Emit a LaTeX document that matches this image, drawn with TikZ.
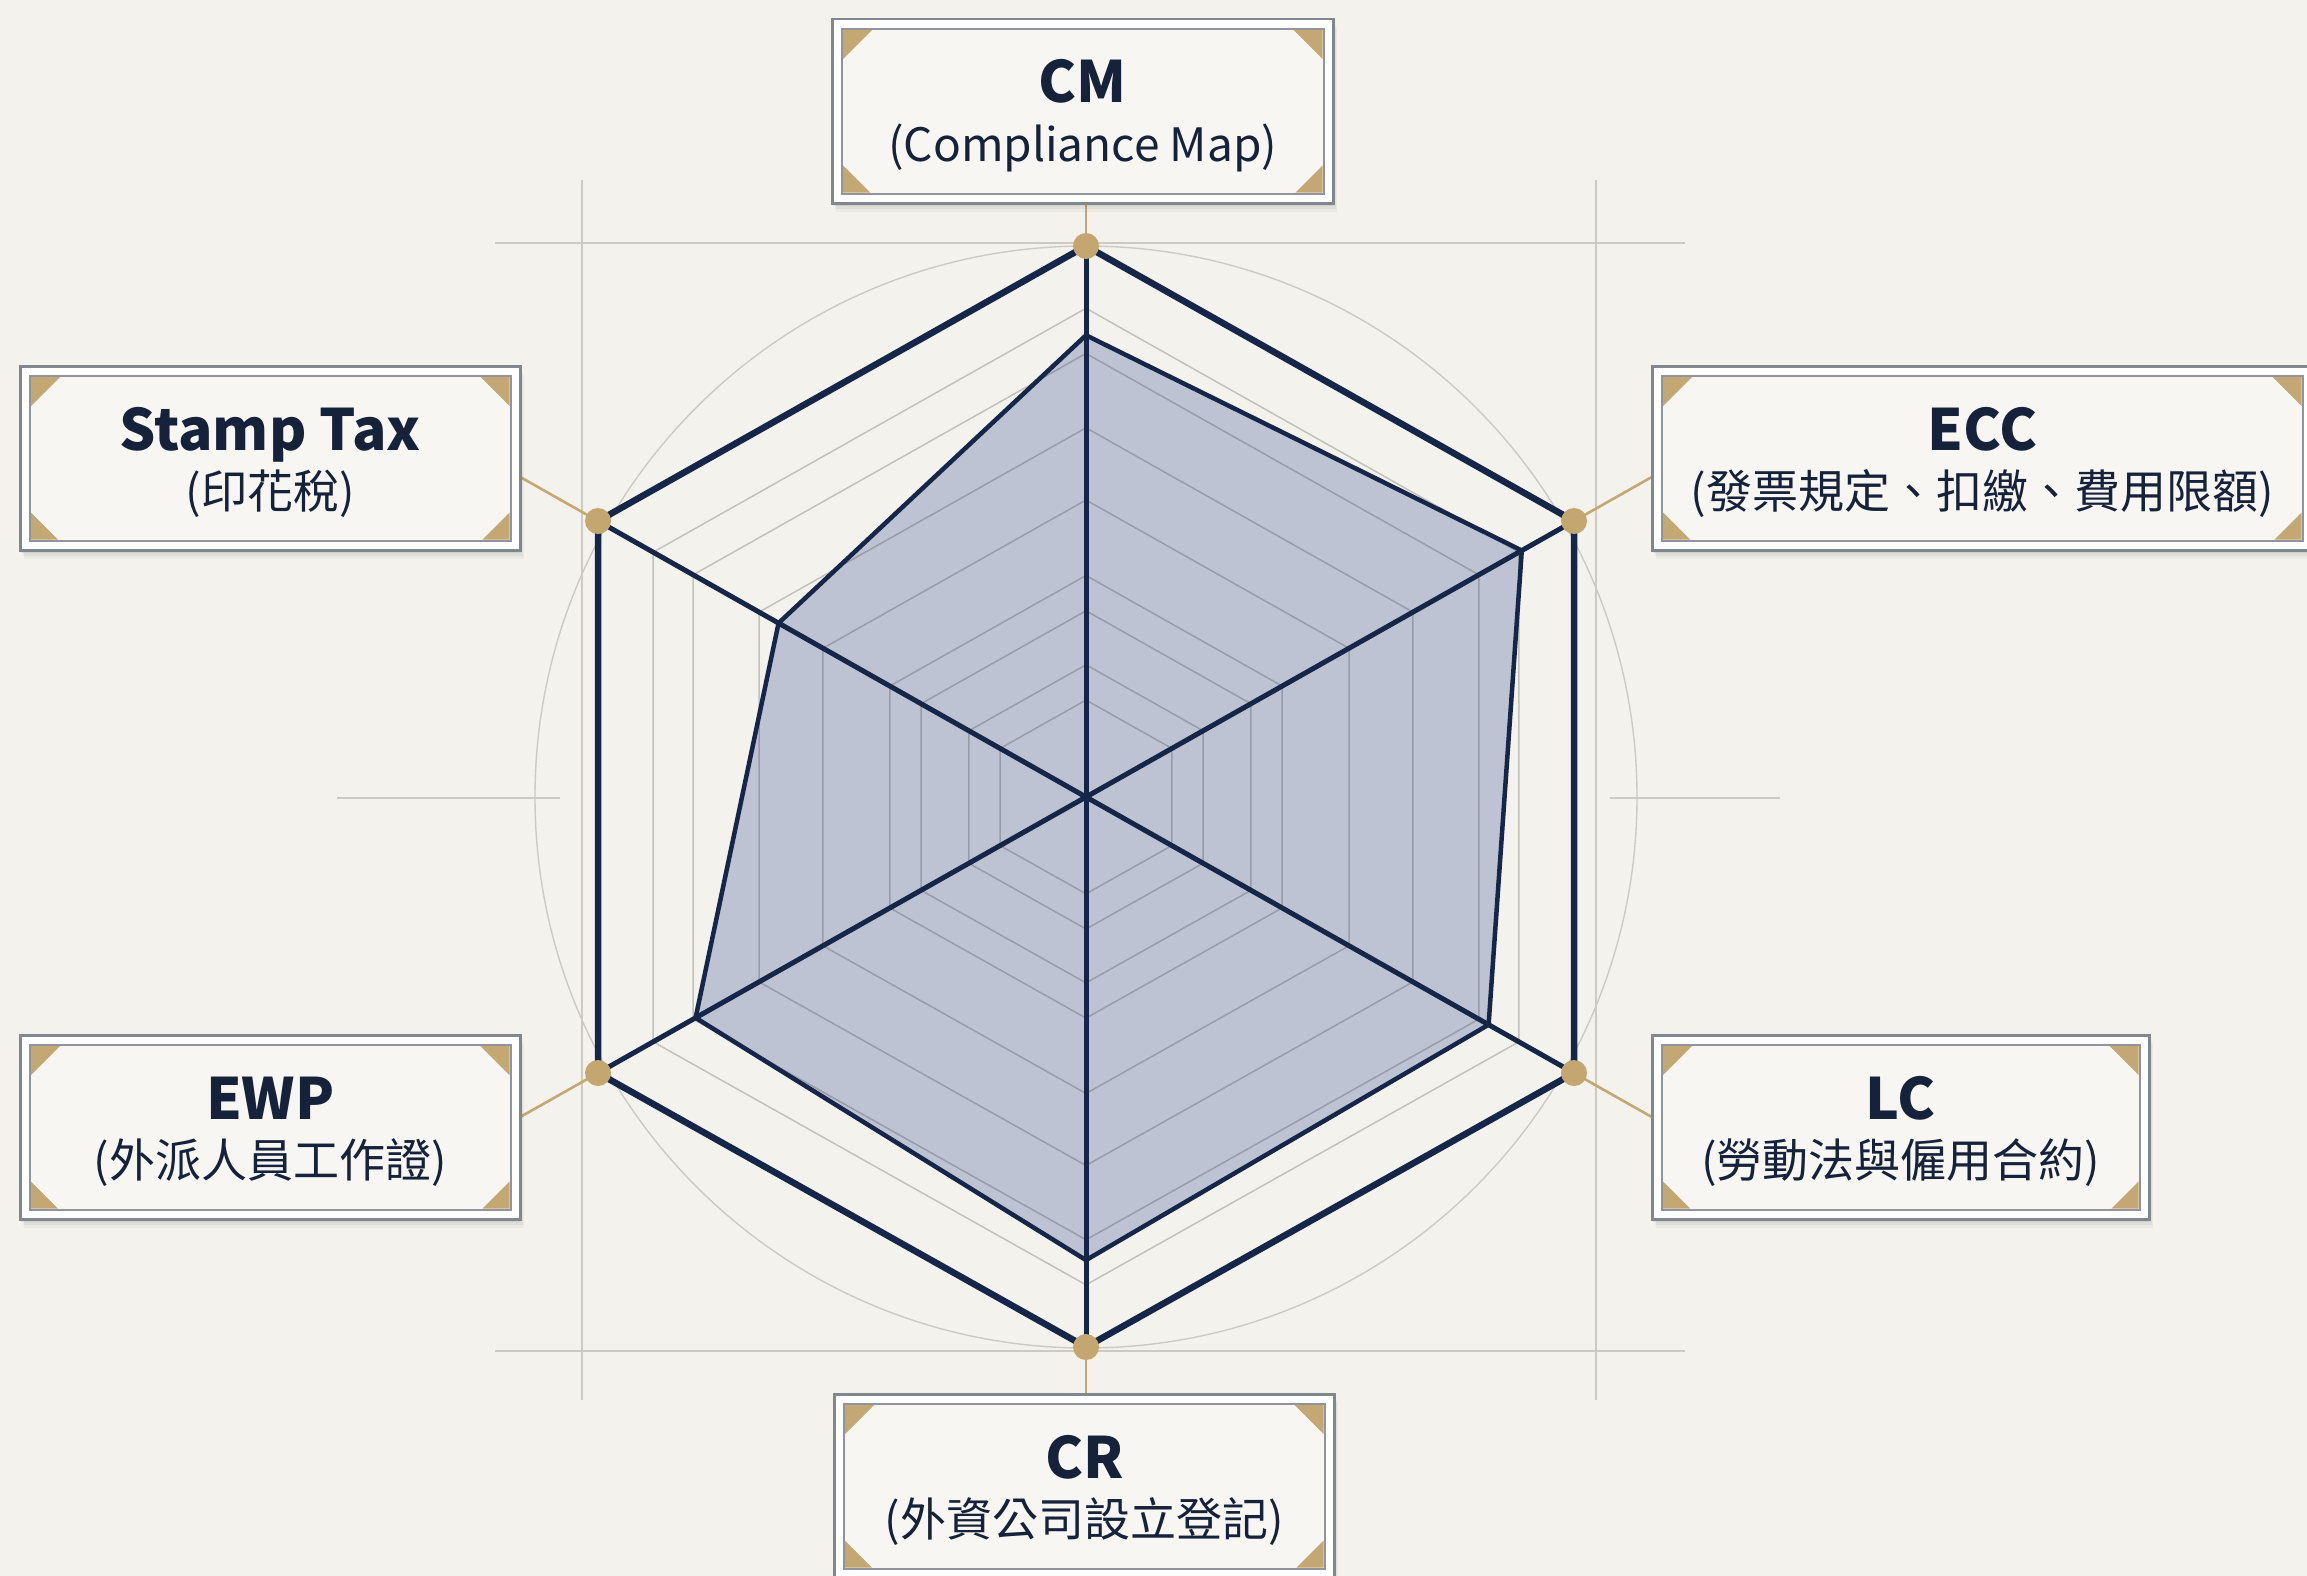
\documentclass[tikz,border=0pt]{standalone}
\usepackage{fontspec}
\setmainfont{Noto Sans CJK TC}
\usetikzlibrary{calc}
\definecolor{bgc}{RGB}{243,242,236}
\definecolor{navy}{RGB}{21,38,72}
\definecolor{textc}{RGB}{22,34,58}
\definecolor{goldc}{RGB}{196,168,116}
\definecolor{dotc}{RGB}{196,166,112}
\definecolor{framec}{RGB}{204,202,195}
\definecolor{datac}{RGB}{190,195,211}
\definecolor{boxedge}{RGB}{130,134,142}
\definecolor{inneredge}{RGB}{145,148,155}
\definecolor{innerfill}{RGB}{247,246,242}
\tikzset{
  frame/.style={draw=framec,line width=1.6pt},
  gridl/.style={draw=black,opacity=0.2,line width=1.5pt},
  navyline/.style={draw=navy,line width=6.5pt},
  spoke/.style={draw=navy,line width=5pt},
  dataline/.style={draw=navy,line width=4.5pt,line join=round},
  goldline/.style={draw=goldc,line width=2.6pt},
  gdot/.style={circle,fill=dotc,minimum size=26pt,inner sep=0pt},
  panelbox/.style={draw=boxedge,line width=2.5pt,fill=white,inner sep=0pt,anchor=north west},
  titlefont/.style={text=textc,anchor=base,inner sep=0pt,font=\bfseries\fontsize{57}{60}\selectfont},
  subfont/.style={text=textc,anchor=base,inner sep=0pt,font=\fontsize{46}{50}\selectfont},
}
\newcommand\panel[6]{%
  \foreach \k/\o in {10/0.035,7/0.045,4/0.06}{%
    \fill[black,opacity=\o] ({#2+\k*0.5},{#3+\k}) rectangle ++(#4,184);}
  \node[panelbox,minimum width=#4pt,minimum height=184pt] (#1) at (#2,#3) {};
  \draw[draw=inneredge,line width=2pt,fill=innerfill] ([shift={(11,11)}]#1.north west) rectangle ([shift={(-11,-11)}]#1.south east);
  \fill[goldc] ([shift={(12,12)}]#1.north west) -- ++(29,0) -- ++(-29,29) -- cycle;
  \fill[goldc] ([shift={(-12,12)}]#1.north east) -- ++(-29,0) -- ++(29,29) -- cycle;
  \fill[goldc] ([shift={(12,-12)}]#1.south west) -- ++(27,0) -- ++(-27,-27) -- cycle;
  \fill[goldc] ([shift={(-12,-12)}]#1.south east) -- ++(-27,0) -- ++(27,-27) -- cycle;
  \node[titlefont] (#1-t) at ($(#1.north)+(0,85)$) {#5};
  \node[subfont] (#1-s) at ($(#1.north)+(0,143)$) {#6};
}
\begin{document}
\begin{tikzpicture}[x=1pt,y=-1pt]
\useasboundingbox (0,0) rectangle (2307,1576);
\fill[bgc] (0,0) rectangle (2307,1576);
% guide frame
\draw[frame] (495,243) -- (1685,243);
\draw[frame] (495,1351) -- (1685,1351);
\draw[frame] (582,180) -- (582,1400);
\draw[frame] (1596,180) -- (1596,1400);
\draw[frame] (337,798) -- (560,798);
\draw[frame] (1610,798) -- (1780,798);
\coordinate (ctr) at (1086,797);
\draw[framec,line width=1.4pt] (ctr) circle (551);
\coordinate (vCM) at (1086,246);
\coordinate (vECC) at (1574,521);
\coordinate (vLC) at (1574,1073);
\coordinate (vCR) at (1086,1347);
\coordinate (vEWP) at (598,1073);
\coordinate (vST) at (598,521);
% data fill
\fill[datac] ($(ctr)!0.838!(vCM)$) -- ($(ctr)!0.893!(vECC)$) -- ($(ctr)!0.825!(vLC)$) -- ($(ctr)!0.842!(vCR)$) -- ($(ctr)!0.80!(vEWP)$) -- ($(ctr)!0.63!(vST)$) -- cycle;
% grid rings
\foreach \s in {0.176,0.24,0.338,0.402,0.539,0.67,0.805,0.887}{
  \draw[gridl] ($(ctr)!\s!(vCM)$) -- ($(ctr)!\s!(vECC)$) -- ($(ctr)!\s!(vLC)$) -- ($(ctr)!\s!(vCR)$) -- ($(ctr)!\s!(vEWP)$) -- ($(ctr)!\s!(vST)$) -- cycle;
}
% outer hexagon and spokes
\draw[navyline] (vCM) -- (vECC) -- (vLC) -- (vCR) -- (vEWP) -- (vST) -- cycle;
\foreach \v in {vCM,vECC,vLC,vCR,vEWP,vST}{\draw[spoke] (ctr) -- (\v);}
\draw[dataline] ($(ctr)!0.838!(vCM)$) -- ($(ctr)!0.893!(vECC)$) -- ($(ctr)!0.825!(vLC)$) -- ($(ctr)!0.842!(vCR)$) -- ($(ctr)!0.80!(vEWP)$) -- ($(ctr)!0.63!(vST)$) -- cycle;
% connectors
\foreach \v in {vECC,vLC,vEWP,vST}{\draw[goldline] (\v) -- ($(ctr)!1.2!(\v)$);}
\foreach \v in {vCM,vCR}{\draw[goldline] (\v) -- ($(ctr)!1.3!(\v)$);}
% dots
\foreach \v in {vCM,vECC,vLC,vCR,vEWP,vST}{\node[gdot] (d-\v) at (\v) {};}
% panels
\panel{cm}{831}{18}{501}{CM}{(Compliance Map)}
\panel{ecc}{1651}{365}{660}{ECC}{(發票規定、扣繳、費用限額)}
\panel{st}{19}{365}{500}{Stamp Tax}{(印花稅)}
\panel{ewp}{19}{1034}{500}{EWP}{(外派人員工作證)}
\panel{lc}{1651}{1034}{497}{LC}{(勞動法與僱用合約)}
\panel{cr}{833}{1393}{500}{CR}{(外資公司設立登記)}
\end{tikzpicture}
\end{document}
